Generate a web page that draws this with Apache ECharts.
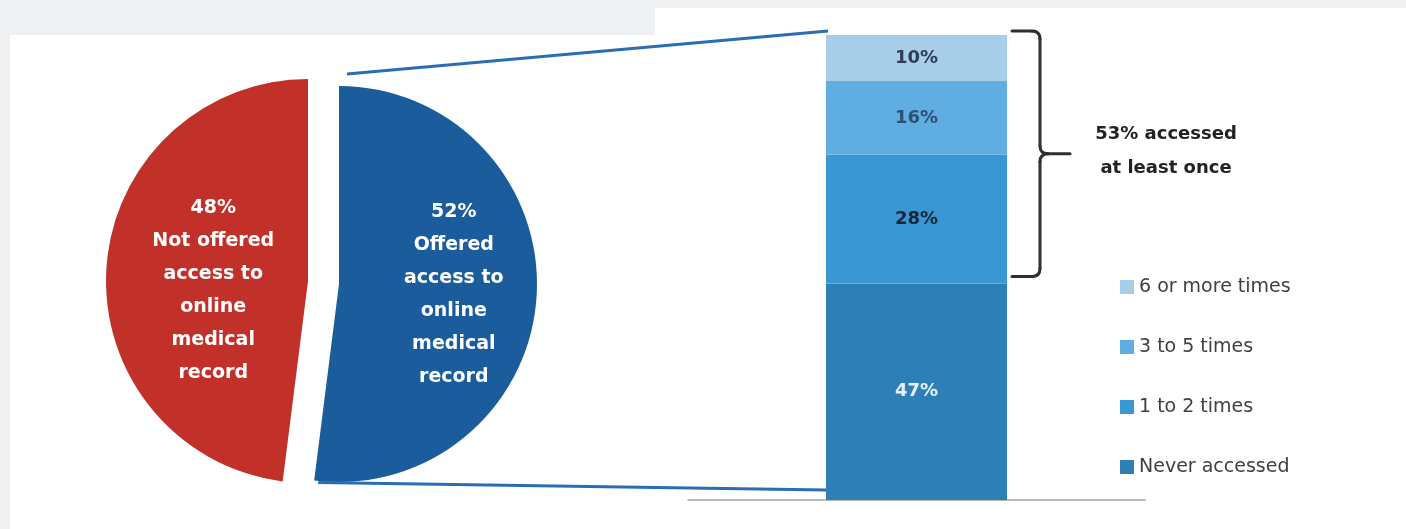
<!DOCTYPE html>
<html><head><meta charset="utf-8">
<script src="https://cdn.jsdelivr.net/npm/echarts@6/dist/echarts.min.js"></script>
<style>html,body{margin:0;padding:0;background:#eef0f1}#c{width:1406px;height:529px}</style>
</head><body><div id="c"></div>
<script>
// ---- data ----
const pieNames = ['Offered access to online medical record', 'Not offered access to online medical record'];
const pieValues = [52, 48];
const pieLabelLines = [['Offered', 'access to', 'online', 'medical', 'record'], ['Not offered', 'access to', 'online', 'medical', 'record']];
const barCategories = ['Offered access'];
const barSeriesNames = ['Never accessed', '1 to 2 times', '3 to 5 times', '6 or more times'];
const neverAccessed = [47];
const oneToTwoTimes = [28];
const threeToFiveTimes = [16];
const sixOrMoreTimes = [10];
const legendOrder = ['6 or more times', '3 to 5 times', '1 to 2 times', 'Never accessed'];
const accessedAtLeastOnce = 53;
const bracketLabel = ['% accessed', 'at least once'];

// ---- style ----
const F = 'DejaVu Sans';
const pieColors = ['#1b5c9d', '#c1312a'];
const barColors = ['#2e7fb6', '#3a97d3', '#60aee1', '#a8cde9'];
const barLabelColors = ['#e6f1fa', '#15263c', '#2e5173', '#2d3e56'];
const redCenter = [308, 281], redR = 202;
const blueCenter = [339, 284], blueR = 198;
const BAR_W = 181;

const chart = echarts.init(document.getElementById('c'));

function pieSeries(idx, center, radius, padLeft, spacer) {
  return {
    type: 'pie', center: center, radius: radius, startAngle: 90, clockwise: true,
    silent: true, avoidLabelOverlap: false, z: 3,
    data: pieValues.map((v, i) => ({
      value: v, name: pieNames[i],
      itemStyle: { color: i === idx ? pieColors[i] : 'rgba(0,0,0,0)' },
      label: { show: i === idx }
    })),
    label: {
      position: 'inside', color: '#ffffff', fontWeight: 'bold', fontSize: 19, lineHeight: 33,
      fontFamily: F, align: 'center', padding: [0, 0, 0, padLeft],
      formatter: p => '{sp|}\n' + p.value + '%\n' + pieLabelLines[p.dataIndex].join('\n'),
      rich: { sp: { lineHeight: spacer, height: spacer, fontSize: 1 } }
    },
    labelLine: { show: false }
  };
}

const barData = [neverAccessed, oneToTwoTimes, threeToFiveTimes, sixOrMoreTimes];
const barSeries = barSeriesNames.map((n, i) => ({
  type: 'bar', name: n, stack: 'acc', data: barData[i], barWidth: BAR_W,
  itemStyle: { color: barColors[i] }, silent: true,
  label: { show: true, position: 'inside', formatter: '{c}%', color: barLabelColors[i],
    fontWeight: 'bold', fontSize: 18, fontFamily: F }
}));

const total = neverAccessed[0] + oneToTwoTimes[0] + threeToFiveTimes[0] + sixOrMoreTimes[0];

chart.setOption({
  backgroundColor: '#eef0f1',
  animation: false,
  grid: { left: 688, right: 261, top: 35, bottom: 29 },
  xAxis: { type: 'category', data: barCategories, axisLine: { show: true, lineStyle: { color: '#9aa3ab', width: 1.5 } },
    axisTick: { show: false }, axisLabel: { show: false } },
  yAxis: { type: 'value', min: 0, max: total, show: false, splitLine: { show: false } },
  legend: {
    data: legendOrder, orient: 'vertical', left: 1120, top: 277, padding: 0, itemGap: 40,
    icon: 'rect', itemWidth: 14, itemHeight: 14, selectedMode: false,
    textStyle: { fontFamily: F, fontSize: 19, color: '#404040', lineHeight: 20 }
  },
  series: [pieSeries(1, redCenter, redR, 18, 32), pieSeries(0, blueCenter, blueR, 26, 8)].concat(barSeries)
});

// geometry derived from scales
const cTop = chart.convertToPixel({ gridIndex: 0 }, [0, total]);
const cNever = chart.convertToPixel({ gridIndex: 0 }, [0, neverAccessed[0]]);
const cBase = chart.convertToPixel({ gridIndex: 0 }, [0, 0]);
const barL = cTop[0] - BAR_W / 2, barR = cTop[0] + BAR_W / 2;
const yTop = cTop[1], yNever = cNever[1], yBase = cBase[1];

const a2 = (90 - pieValues[0] * 3.6) * Math.PI / 180;
const blueBottom = [blueCenter[0] + blueR * Math.cos(a2), blueCenter[1] - blueR * Math.sin(a2)];
const blueTop = [blueCenter[0], blueCenter[1] - blueR];

const bx = barR + 33, by0 = yTop - 4, by1 = yNever - 7, bym = (by0 + by1) / 2;
const BS = { stroke: '#2f2f2f', lineWidth: 3, fill: null, lineCap: 'round' };
const seg = (x1, y1, x2, y2) => ({ type: 'line', z: 20, silent: true, shape: { x1, y1, x2, y2 }, style: BS });
const crv = (x1, y1, cx, cy, x2, y2) => ({ type: 'bezierCurve', z: 20, silent: true,
  shape: { x1, y1, x2, y2, cpx1: cx, cpy1: cy }, style: BS });
const R = 8;
const bracket = [
  seg(barR + 5, by0, bx - R, by0),
  crv(bx - R, by0, bx, by0, bx, by0 + R),
  seg(bx, by0 + R, bx, bym - R),
  crv(bx, bym - R, bx, bym, bx + R, bym),
  seg(bx + R, bym, bx + 30, bym),
  crv(bx, bym + R, bx, bym, bx + R, bym),
  seg(bx, bym + R, bx, by1 - R),
  crv(bx, by1 - R, bx, by1, bx - R, by1),
  seg(bx - R, by1, barR + 5, by1)
];

chart.setOption({
  graphic: [
    { type: 'rect', z: -10, silent: true, shape: { x: 10, y: 35, width: 646, height: 494 }, style: { fill: '#ffffff' } },
    { type: 'rect', z: -10, silent: true, shape: { x: 655, y: 8, width: 751, height: 521 }, style: { fill: '#ffffff' } },
    { type: 'line', z: 20, silent: true, shape: { x1: blueTop[0] + 8, y1: blueTop[1] - 12, x2: barL + 2, y2: yTop - 4 },
      style: { stroke: '#2a6db2', lineWidth: 3 } },
    { type: 'line', z: 20, silent: true, shape: { x1: blueBottom[0] + 4, y1: blueBottom[1] + 2, x2: barL, y2: yBase - 10 },
      style: { stroke: '#2a6db2', lineWidth: 3 } },
    { type: 'text', z: 20, silent: true, x: 1166, y: bym - 2,
      style: { text: accessedAtLeastOnce + bracketLabel[0] + '\n' + bracketLabel[1], fontFamily: F, fontWeight: 'bold',
        fontSize: 18, lineHeight: 34, fill: '#222222', align: 'center', verticalAlign: 'middle' } }
  ].concat(bracket)
});
</script></body></html>
